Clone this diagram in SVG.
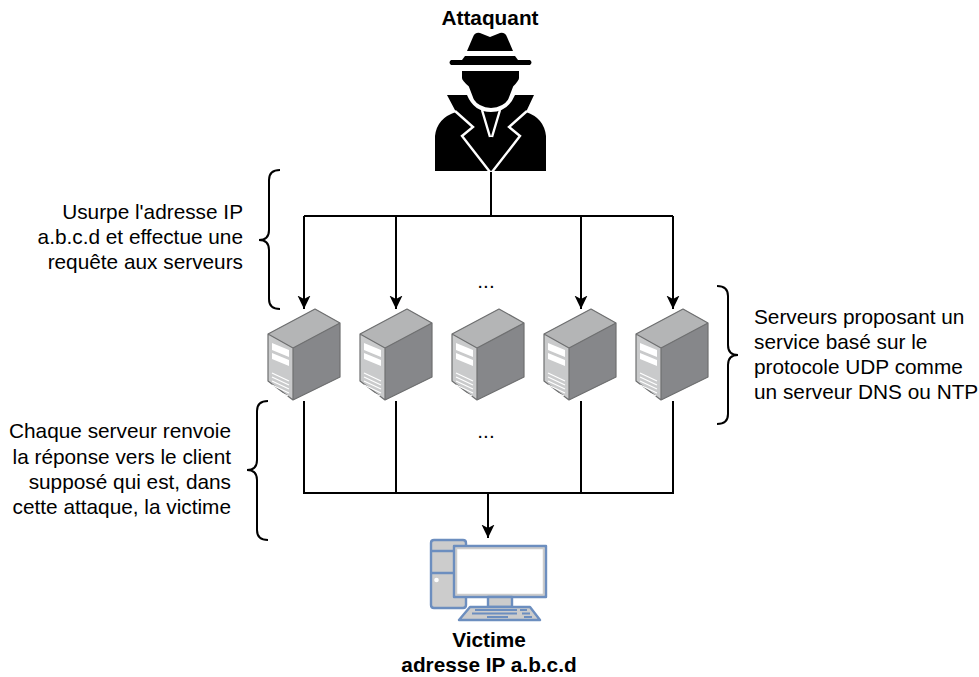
<svg xmlns="http://www.w3.org/2000/svg" width="979" height="677" viewBox="0 0 979 677">
<style>
text{font-family:"Liberation Sans",Arial,sans-serif;font-size:20.8px;fill:#000}
.b{font-weight:bold}
.e{text-anchor:end}
.m{text-anchor:middle}
.c{fill:none;stroke:#000;stroke-width:2}
.br{fill:none;stroke:#000;stroke-width:2}
.pc{stroke:#6c8ebf;stroke-width:2.4;fill:#ccc;stroke-linejoin:round}
</style>
<defs>
<marker id="arr" markerUnits="userSpaceOnUse" markerWidth="14" markerHeight="14" refX="13.500" refY="7" orient="auto" viewBox="0 0 14 14"><path d="M0 .5L13.500 7L0 13.500L3.500 7Z" fill="#000"/></marker>
<g id="server">
<path d="M0 25L47 0L72 14V68L25 91L0 72Z" fill="#8a8b8d"/>
<path d="M0 25L47 0L72 14L25 39Z" fill="#b4b5b6"/>
<path d="M0 25L25 39V91L0 72Z" fill="#c9cacb"/>
<path d="M25 39L72 14V68L25 91Z" fill="#86878a"/>
<path d="M0 25L47 0L72 14V68L25 91L0 72ZM0 25L25 39V91M25 39L72 14" fill="none" stroke="#6f7071" stroke-width="1.200" stroke-linejoin="round"/>
<path d="M4 34L21 41V48L4 41ZM4 44L21 51V57L4 50Z" fill="#fff"/>
<path d="M4 64L21 72M4 68L21 76M4 72L21 80M4 76L21 84M4 80L20 87" fill="none" stroke="#fff" stroke-width="1.200"/>
</g>
</defs>

<g id="connectors">
<path class="c" d="M491 172V216"/>
<path class="c" d="M304 216H673"/>
<path class="c" d="M304 216V309" marker-end="url(#arr)"/>
<path class="c" d="M396 216V309" marker-end="url(#arr)"/>
<path class="c" d="M581 216V309" marker-end="url(#arr)"/>
<path class="c" d="M673 216V309" marker-end="url(#arr)"/>
<path class="c" d="M304 401V493H673V401"/>
<path class="c" d="M396 401V493"/>
<path class="c" d="M581 401V493"/>
<path class="c" d="M488 493V538" marker-end="url(#arr)"/>
</g>

<g id="attaquant">
<text class="b m" x="490" y="25">Attaquant</text>
<path fill="#000" d="M467 51L473 37Q475 32 480 33L490 37L500 33Q505 32 507 37L513 51Z"/>
<path fill="#000" d="M465 56H515L518 60H530Q533 62.500 530 65H451Q448 62.500 451 60H462Z"/>
<path fill="#000" d="M447 95H467Q474 112 491 112Q508 112 515 95H534L526 112Q544 118 546 136V171H435V136Q437 118 456 112Z"/>
<path fill="none" stroke="#fff" stroke-width="2.400" d="M455 111L473 127L462 136L490 172M527 111L509 127L520 136L492 172M482 110L490 137M500 110L492 137"/>
<path fill="#000" stroke="#fff" stroke-width="2" d="M461 70H520V78Q520 81 514 87L509 100Q504 108 491 109Q478 108 473 100L468 87Q461 81 461 78Z"/>
</g>

<g id="annot-usurpe">
<text class="e" x="243" y="219">Usurpe l'adresse IP</text>
<text class="e" x="243" y="244">a.b.c.d et effectue une</text>
<text class="e" x="243" y="269">requête aux serveurs</text>
<path class="br" d="M280 170Q269 170 269 180V230Q269 240 259 240Q269 240 269 250V299Q269 309 280 309"/>
</g>

<g id="serveur1"><use href="#server" x="268" y="309"/></g>
<g id="serveur2"><use href="#server" x="360" y="309"/></g>
<g id="serveur3"><use href="#server" x="452" y="309"/></g>
<g id="serveur4"><use href="#server" x="544" y="309"/></g>
<g id="serveur5"><use href="#server" x="636" y="309"/></g>

<text class="m" x="486" y="288">...</text>
<text class="m" x="486" y="438">...</text>

<g id="annot-serveurs">
<path class="br" d="M717 286Q728 286 728 296V345Q728 355 738 355Q728 355 728 365V414Q728 424 717 424"/>
<text x="754" y="324">Serveurs proposant un</text>
<text x="754" y="349">service basé sur le</text>
<text x="754" y="374">protocole UDP comme</text>
<text x="754" y="399">un serveur DNS ou NTP</text>
</g>

<g id="annot-chaque">
<text class="e" x="231" y="438">Chaque serveur renvoie</text>
<text class="e" x="231" y="464">la réponse vers le client</text>
<text class="e" x="231" y="489">supposé qui est, dans</text>
<text class="e" x="231" y="514">cette attaque, la victime</text>
<path class="br" d="M268 401Q257 401 257 411V460Q257 470 247 470Q257 470 257 480V530Q257 540 268 540"/>
</g>

<g id="victime">
<path class="pc" d="M434 540H463Q466 540 466 543V605Q466 608 463 608H434Q431 608 431 605V543Q431 540 434 540Z"/>
<path class="pc" fill="none" d="M431 551H454M431 573H454"/>
<circle cx="436.500" cy="580" r="2.300" fill="#fff"/>
<rect class="pc" x="454" y="546" width="92" height="51"/>
<rect x="456.500" y="548.500" width="87" height="46" fill="#fff" stroke="#ccc" stroke-width="1.500"/>
<rect x="488" y="597" width="24" height="10" class="pc"/>
<path class="pc" d="M470 607H530L540 620H459Z"/>
<path d="M475 610H517M520 610H527M472 613.500H517M522 613.500H530M487 617H508M524 617H532" stroke="#6c8ebf" stroke-width="1.800" fill="none"/>
<text class="b m" x="489" y="647">Victime</text>
<text class="b m" x="489" y="672">adresse IP a.b.c.d</text>
</g>
</svg>
